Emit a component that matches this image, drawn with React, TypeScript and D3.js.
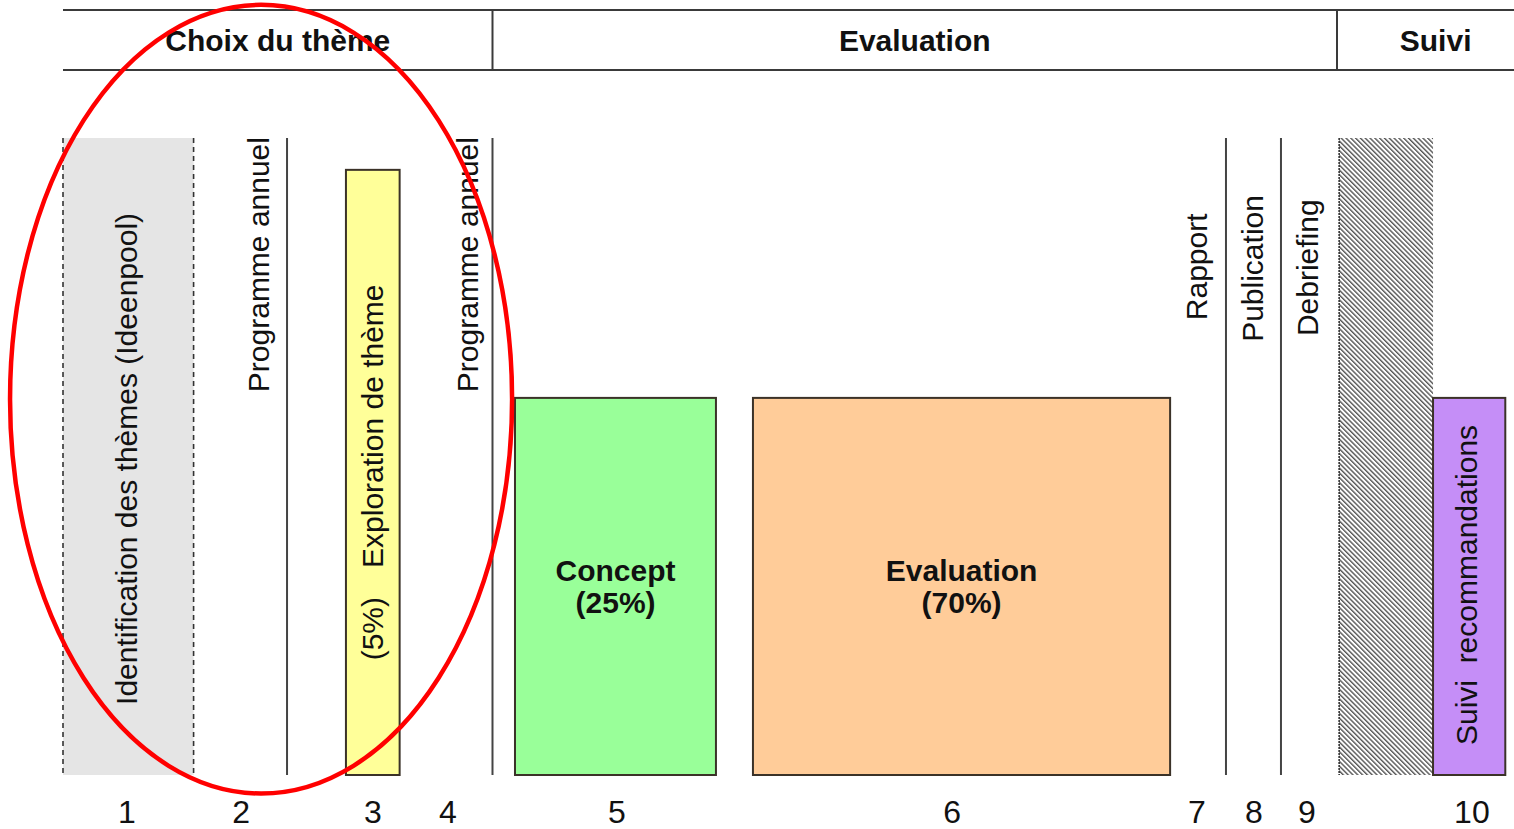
import { useEffect, useRef } from "react"
import * as d3 from "d3"

// Timeline in percent of the chart width, heights in percent of the full bar height
const headerLabels = ["Choix du thème", "Evaluation", "Suivi"]
const headerBounds = [0, 29.6, 87.8, 100]
const headerCenters = [14.8, 58.7, 94.6]

const boxNames = ["ideenpool", "exploration", "concept", "evaluation", "gap", "suivi"]
const boxStarts = [0, 19.5, 31.15, 47.55, 87.95, 94.42]
const boxEnds = [9.0, 23.2, 45.0, 76.3, 94.42, 99.4]
const boxHeights = [100, 95, 59.2, 59.2, 100, 59.2]

const milestoneLines = [15.44, 29.6, 80.15, 83.94]

const verticalLabels = [
  "Identification des thèmes (Ideenpool)",
  "Programme annuel",
  "(5%)",
  "Exploration de thème",
  "Programme annuel",
  "Rapport",
  "Publication",
  "Debriefing",
  "Suivi  recommandations",
]
const verticalLabelX = [4.41, 13.5, 21.36, 21.36, 27.9, 78.15, 82.0, 85.8, 96.76]
const verticalLabelStart = [11.0, 60.1, 18.0, 32.5, 60.1, 71.4, 68.0, 68.9, 4.7]

const boxTitles = [["Concept", "(25%)"], ["Evaluation", "(70%)"]]
const boxTitleX = [38.08, 61.93]

const stepLabels = ["1", "2", "3", "4", "5", "6", "7", "8", "9", "10"]
const stepX = [4.41, 12.27, 21.36, 26.53, 38.18, 61.27, 78.15, 82.08, 85.73, 97.1]

// highlight ellipse: centre and radii in the same units
const highlight = { cx: 13.65, cy: 59.0, rx: 17.3, ry: 61.9 }

export default function App() {
  const svgRef = useRef<SVGSVGElement>(null)

  useEffect(() => {
    if (!svgRef.current) return
    const W = 1514
    const H = 829
    const font = "'Liberation Sans', Arial, sans-serif"

    d3.select(svgRef.current).selectAll("*").remove()
    const svg = d3.select(svgRef.current).attr("width", W).attr("height", H)

    const x = d3.scaleLinear().domain([0, 100]).range([63, 1514])
    const y = d3.scaleLinear().domain([0, 100]).range([775, 138])
    const headerTop = 10
    const headerBottom = 70

    // hatch pattern
    const defs = svg.append("defs")
    const pat = defs
      .append("pattern")
      .attr("id", "hatch")
      .attr("patternUnits", "userSpaceOnUse")
      .attr("width", 3.4)
      .attr("height", 3.4)
      .attr("patternTransform", "rotate(-45)")
    pat.append("rect").attr("width", 3.4).attr("height", 3.4).attr("fill", "#ffffff")
    pat.append("rect").attr("width", 1.4).attr("height", 3.4).attr("fill", "#555555")

    const fills: Record<string, string> = {
      ideenpool: "#e5e5e5",
      exploration: "#ffff99",
      concept: "#99ff99",
      evaluation: "#ffcc99",
      gap: "url(#hatch)",
      suivi: "#c58ef7",
    }

    // header band
    const header = svg.append("g")
    header
      .selectAll("line.h")
      .data([headerTop, headerBottom])
      .join("line")
      .attr("x1", x(0))
      .attr("x2", x(100))
      .attr("y1", (d) => d)
      .attr("y2", (d) => d)
      .attr("stroke", "#3a3a3a")
      .attr("stroke-width", 2)
    header
      .selectAll("line.v")
      .data(headerBounds.slice(1, -1))
      .join("line")
      .attr("x1", (d) => x(d))
      .attr("x2", (d) => x(d))
      .attr("y1", headerTop)
      .attr("y2", headerBottom)
      .attr("stroke", "#3a3a3a")
      .attr("stroke-width", 2)
    header
      .selectAll("text")
      .data(headerLabels)
      .join("text")
      .attr("x", (_, i) => x(headerCenters[i]))
      .attr("y", (headerTop + headerBottom) / 2)
      .attr("text-anchor", "middle")
      .attr("dominant-baseline", "central")
      .style("font-family", font)
      .style("font-size", "30px")
      .style("font-weight", "bold")
      .style("fill", "#111")
      .text((d) => d)

    // boxes
    const boxes = boxNames.map((name, i) => ({ name, start: boxStarts[i], end: boxEnds[i], h: boxHeights[i] }))
    svg
      .selectAll("rect.box")
      .data(boxes)
      .join("rect")
      .attr("class", "box")
      .attr("x", (d) => x(d.start))
      .attr("y", (d) => y(d.h))
      .attr("width", (d) => x(d.end) - x(d.start))
      .attr("height", (d) => y(0) - y(d.h))
      .attr("fill", (d) => fills[d.name])
      .attr("stroke", (d) => (d.name === "ideenpool" || d.name === "gap" ? "none" : "#3b3228"))
      .attr("stroke-width", 2)

    // dashed sides of the ideenpool box
    const pool = boxes[0]
    svg
      .selectAll("line.pool")
      .data([pool.start, pool.end])
      .join("line")
      .attr("x1", (d) => x(d))
      .attr("x2", (d) => x(d))
      .attr("y1", y(pool.h))
      .attr("y2", y(0))
      .attr("stroke", "#333")
      .attr("stroke-width", 1.6)
      .attr("stroke-dasharray", "5,4")

    // dotted left side of the hatched gap
    const gap = boxes[4]
    svg
      .append("line")
      .attr("x1", x(gap.start))
      .attr("x2", x(gap.start))
      .attr("y1", y(gap.h))
      .attr("y2", y(0))
      .attr("stroke", "#333")
      .attr("stroke-width", 1.6)
      .attr("stroke-dasharray", "2,1")

    // milestone lines
    svg
      .selectAll("line.ms")
      .data(milestoneLines)
      .join("line")
      .attr("x1", (d) => x(d))
      .attr("x2", (d) => x(d))
      .attr("y1", y(100))
      .attr("y2", y(0))
      .attr("stroke", "#444")
      .attr("stroke-width", 2)

    // rotated labels
    svg
      .selectAll("text.vert")
      .data(verticalLabels)
      .join("text")
      .attr("transform", (_, i) => `translate(${x(verticalLabelX[i])},${y(verticalLabelStart[i])}) rotate(-90)`)
      .attr("text-anchor", "start")
      .attr("dominant-baseline", "central")
      .attr("xml:space", "preserve")
      .style("white-space", "pre")
      .style("font-family", font)
      .style("font-size", "30px")
      .style("fill", "#111")
      .text((d) => d)

    // box titles
    boxTitles.forEach((lines, i) => {
      const t = svg
        .append("text")
        .attr("text-anchor", "middle")
        .style("font-family", font)
        .style("font-size", "30px")
        .style("font-weight", "bold")
        .style("fill", "#111")
      lines.forEach((line, j) => {
        t.append("tspan")
          .attr("x", x(boxTitleX[i]))
          .attr("y", y(59.2 / 2) + (j - 0.5) * 32)
          .attr("dominant-baseline", "central")
          .text(line)
      })
    })

    // step numbers
    svg
      .selectAll("text.step")
      .data(stepLabels)
      .join("text")
      .attr("x", (_, i) => x(stepX[i]))
      .attr("y", 812)
      .attr("text-anchor", "middle")
      .attr("dominant-baseline", "central")
      .style("font-family", font)
      .style("font-size", "32px")
      .style("fill", "#111")
      .text((d) => d)

    // red highlight ellipse
    svg
      .append("ellipse")
      .attr("cx", x(highlight.cx))
      .attr("cy", y(highlight.cy))
      .attr("rx", x(highlight.rx) - x(0))
      .attr("ry", y(0) - y(highlight.ry))
      .attr("fill", "none")
      .attr("stroke", "#ff0000")
      .attr("stroke-width", 4.5)
  }, [])

  return (
    <div style={{ position: "absolute", left: 0, top: 0, background: "#fff" }}>
      <svg ref={svgRef} style={{ display: "block" }}></svg>
    </div>
  )
}
